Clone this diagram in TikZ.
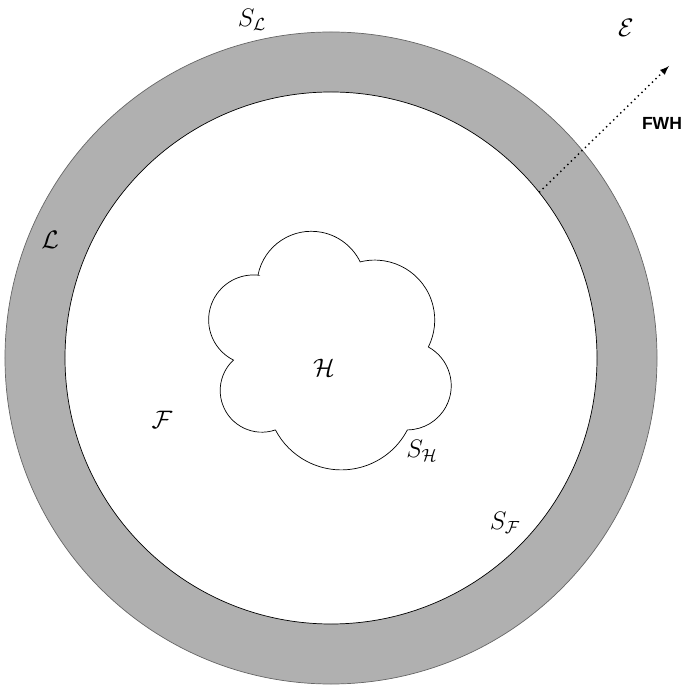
\documentclass[tikz,border=0pt]{standalone}
\usepackage{fontspec}
\setsansfont{Liberation Sans}
\usetikzlibrary{arrows}
\definecolor{ringgray}{gray}{0.69}
\tikzset{lab/.style={font=\Large}}
\begin{document}
\begin{tikzpicture}
\pgfmathsetmacro{\R}{6.52}
\pgfmathsetmacro{\r}{5.32}
\pgfmathsetmacro{\ang}{38.5}
\useasboundingbox(-6.62,-6.62) rectangle (7.08,7.16);
% layer L
\fill[ringgray,even odd rule](0,0) circle (\R) (0,0) circle (\r);
\draw[gray!80!black](0,0) circle (\R);
\draw(0,0) circle (\r);
% region H, one arc per bump
\coordinate (A) at (-1.46,1.66);
\draw(A) arc[start angle=168.7,end angle=25.9,radius=1.087] coordinate (B)
  arc[start angle=104.1,end angle=-26.7,radius=1.199] coordinate (C)
  arc[start angle=61.2,end angle=-89.6,radius=0.884] coordinate (D)
  arc[start angle=-27.6,end angle=-152.4,radius=1.489] coordinate (E)
  arc[start angle=289,end angle=133,radius=0.833] coordinate (F)
  arc[start angle=243.4,end angle=83.8,radius=0.899] -- cycle;
% FWH surface
\coordinate (fwhstart) at (\ang:\r);
\coordinate (fwhend) at (6.76,5.84);
\draw[dotted,thick,-latex](fwhstart)--(fwhend);
% labels
\node[lab] (SL) at (-1.58,6.76) {$S_{\mathcal{L}}$};
\node[lab] (Ext) at (5.9,6.6) {$\mathcal{E}$};
\node[font=\sffamily\bfseries] (fwh) at (6.62,4.7) {FWH};
\node[lab] (Lay) at (-5.62,2.36) {$\mathcal{L}$};
\node[lab] (Hol) at (-0.14,-0.2) {$\mathcal{H}$};
\node[lab] (Fld) at (-3.38,-1.24) {$\mathcal{F}$};
\node[lab] (SH) at (1.82,-1.86) {$S_{\mathcal{H}}$};
\node[lab] (SF) at (3.48,-3.3) {$S_{\mathcal{F}}$};
\end{tikzpicture}
\end{document}
